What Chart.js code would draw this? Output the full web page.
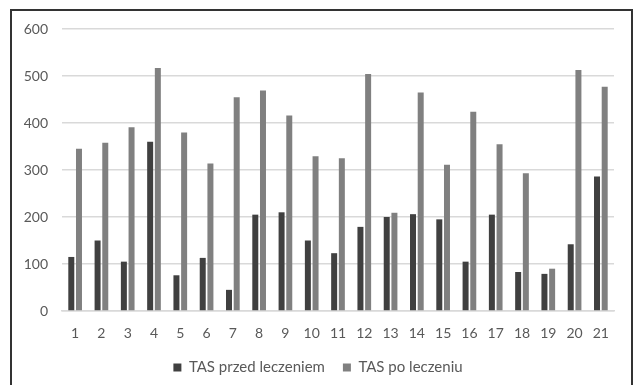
<!doctype html>
<html lang="pl">
<head>
    <meta charset="utf-8">
    <script src="https://cdn.jsdelivr.net/npm/chart.js"></script>
    <title>TAS przed i po leczeniu</title>
    <style>
        body { margin: 0; background: #fff; }
        #wrap { position: relative; width: 638px; height: 385px; overflow: hidden; }
        #frame { position: absolute; left: 10px; top: 9px; width: 619px; height: 400px;
                 border: 2px solid #333; pointer-events: none; }
    </style>
</head>
<body>
<script>
    // data
    var patients = ['1', '2', '3', '4', '5', '6', '7', '8', '9', '10', '11',
        '12', '13', '14', '15', '16', '17', '18', '19', '20', '21'];
    var tasBefore = [115, 150, 105, 360, 76, 113, 45, 205, 210, 150, 123,
        179, 200, 206, 195, 105, 205, 83, 79, 142, 286];
    var tasAfter = [345, 358, 391, 517, 380, 314, 455, 469, 416, 329, 325,
        504, 209, 465, 311, 424, 355, 293, 90, 513, 477];
    var yTicks = [0, 100, 200, 300, 400, 500, 600];
</script>
<div id="wrap">
    <canvas id="chart" width="638" height="385"></canvas>
    <div id="frame"></div>
</div>
<script>
    Chart.defaults.font.family = 'Lato, "Open Sans", sans-serif';
    Chart.defaults.font.size = 14;
    Chart.defaults.color = '#595959';

    var ctx = document.getElementById('chart');
    var myChart = new Chart(ctx, {
        type: 'bar',
        data: {
            labels: patients,
            datasets: [{
                label: 'TAS przed leczeniem',
                data: tasBefore,
                backgroundColor: '#404040'
            }, {
                label: 'TAS po leczeniu',
                data: tasAfter,
                backgroundColor: '#808080'
            }]
        },
        options: {
            responsive: false,
            animation: false,
            categoryPercentage: 0.585,
            barPercentage: 0.78,
            layout: {
                padding: {top: 29, right: 24, left: 22, bottom: 0}
            },
            scales: {
                x: {
                    afterFit: function (scale) { scale.height = 31; },
                    grid: {display: false, drawTicks: false},
                    border: {display: true, color: '#d9d9d9', width: 1.5},
                    ticks: {padding: 14, maxRotation: 0, autoSkip: false}
                },
                y: {
                    min: 0,
                    max: 600,
                    afterFit: function (scale) { scale.width = 40; },
                    afterBuildTicks: function (scale) {
                        scale.ticks = yTicks.map(function (v) { return {value: v}; });
                    },
                    grid: {color: '#d9d9d9', lineWidth: 1.5, drawTicks: false},
                    border: {display: false},
                    ticks: {padding: 14}
                }
            },
            plugins: {
                legend: {
                    position: 'bottom',
                    labels: {
                        usePointStyle: true,
                        pointStyle: 'rect',
                        boxWidth: 8,
                        boxHeight: 8,
                        padding: 18,
                        font: {size: 15}
                    }
                },
                tooltip: {enabled: false}
            }
        }
    });
</script>
</body>
</html>
